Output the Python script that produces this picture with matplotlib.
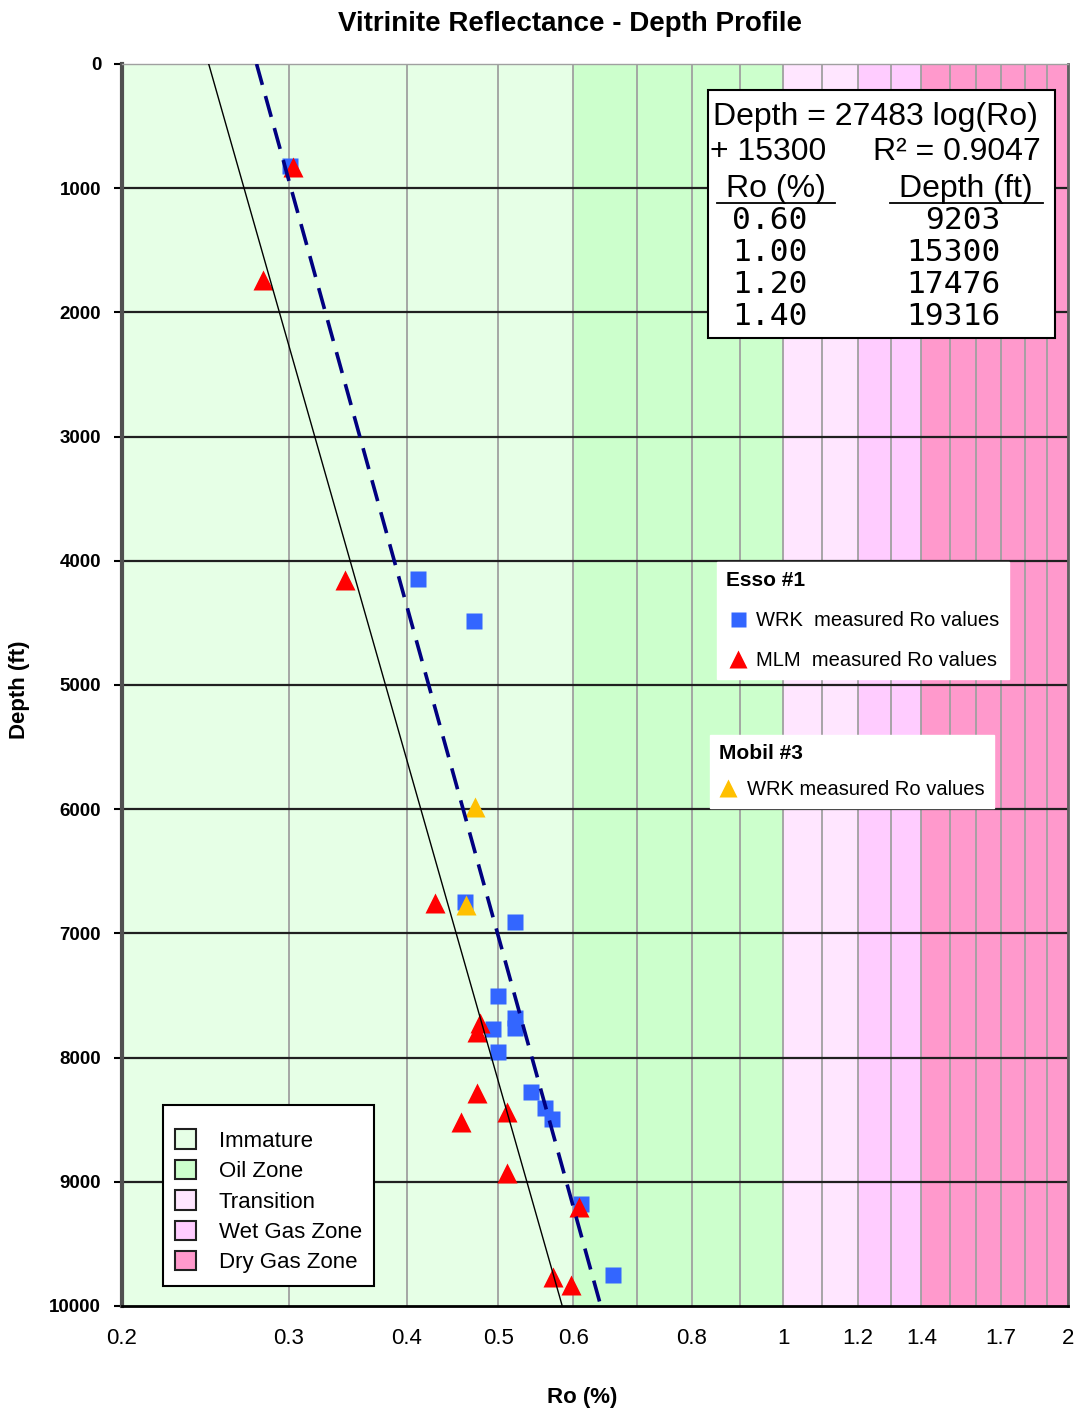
import matplotlib.pyplot as plt
from matplotlib.patches import Patch, Rectangle
from matplotlib.lines import Line2D
import numpy as np

W, H = 1076, 1412

# maturity zones (Ro %)
zone_names = ["Immature", "Oil Zone", "Transition", "Wet Gas Zone", "Dry Gas Zone"]
zone_edges = [0.2, 0.6, 1.0, 1.2, 1.4, 2.0]
zone_colors = ["#E6FFE6", "#CCFFCC", "#FFE6FF", "#FFCCFF", "#FF99CC"]

# Esso #1 - WRK measured Ro values
esso_wrk_ro = [0.301, 0.411, 0.471, 0.461, 0.521, 0.500, 0.521, 0.521, 0.493,
               0.500, 0.541, 0.560, 0.569, 0.612, 0.660]
esso_wrk_depth = [821, 4147, 4485, 6745, 6906, 7504, 7684, 7764, 7772,
                  7952, 8274, 8408, 8497, 9179, 9750]

# Esso #1 - MLM measured Ro values
esso_mlm_ro = [0.303, 0.282, 0.344, 0.428, 0.478, 0.475, 0.474, 0.456, 0.511,
               0.511, 0.608, 0.571, 0.597]
esso_mlm_depth = [828, 1739, 4155, 6758, 7719, 7791, 8288, 8516, 8436,
                  8932, 9200, 9764, 9831]

# Mobil #3 - WRK measured Ro values
mobil_wrk_ro = [0.472, 0.462]
mobil_wrk_depth = [5982, 6771]

# trend lines
fit_slope, fit_icpt, r_squared = 27483, 15300, 0.9047
line_depth = [0, 10000]
solid_ro = [0.247, 0.584]

# table in the equation box
table_ro = ["0.60", "1.00", "1.20", "1.40"]
table_depth = ["9203", "15300", "17476", "19316"]

x_ticks = [0.2, 0.3, 0.4, 0.5, 0.6, 0.8, 1, 1.2, 1.4, 1.7, 2]
x_grid = [0.2, 0.3, 0.4, 0.5, 0.6, 0.7, 0.8, 0.9, 1.0, 1.1, 1.2, 1.3, 1.4,
          1.5, 1.6, 1.7, 1.8, 1.9, 2.0]
y_ticks = [0, 1000, 2000, 3000, 4000, 5000, 6000, 7000, 8000, 9000, 10000]

plt.rcParams["font.family"] = ["Liberation Sans", "DejaVu Sans"]


def fx(x):
    return x / W


def fy(y):
    return 1 - y / H


fig = plt.figure(figsize=(W / 100, H / 100), dpi=100)
ax = fig.add_axes([fx(122), fy(1306), (1068 - 122) / W, (1306 - 64) / H])

for i, c in enumerate(zone_colors):
    ax.axvspan(zone_edges[i], zone_edges[i + 1], color=c, zorder=0, lw=0)

sq, = ax.plot(esso_wrk_ro, esso_wrk_depth, "s", color="#3366FF", ms=12,
              mec="none", zorder=3)
tri, = ax.plot(esso_mlm_ro, esso_mlm_depth, "^", color="#FF0000", ms=14,
               mec="none", zorder=3)
otri, = ax.plot(mobil_wrk_ro, mobil_wrk_depth, "^", color="#FFC000", ms=14,
                mec="none", zorder=3)

fit_ro = [10 ** ((d - fit_icpt) / fit_slope) for d in line_depth]
ax.plot(fit_ro, line_depth, color="#000080", lw=2.6, ls=(0, (6, 3.2)), zorder=4)
ax.plot(solid_ro, line_depth, color="black", lw=1.0, zorder=4)

ax.set_xscale("log")
ax.set_xlim(0.2, 2)
ax.set_ylim(10000, 0)
ax.set_xticks(x_grid, minor=True)
ax.set_xticks(x_ticks)
ax.set_xticklabels([f"{v:g}" for v in x_ticks], fontsize=16)
ax.xaxis.set_minor_formatter(plt.NullFormatter())
ax.tick_params(axis="x", which="both", length=0, pad=16)
ax.set_yticks(y_ticks)
ax.set_yticklabels([str(v) for v in y_ticks], fontsize=13.5, fontweight="bold")
ax.tick_params(axis="y", length=6, width=1.5, pad=9)

ax.set_axisbelow(True)
ax.grid(axis="x", which="both", color="#A0A0A0", lw=1.3)
ax.grid(axis="y", which="major", color="#202020", lw=1.6)
ygl = ax.get_ygridlines()
ygl[0].set_visible(False)
ygl[-1].set_visible(False)

ax.spines["left"].set_color("#505050")
ax.spines["left"].set_linewidth(3)
ax.spines["bottom"].set_color("black")
ax.spines["bottom"].set_linewidth(2)
ax.spines["right"].set_color("#606060")
ax.spines["right"].set_linewidth(2)
ax.spines["top"].set_color("#A0A0A0")
ax.spines["top"].set_linewidth(1)

fig.text(fx(570), fy(24), "Vitrinite Reflectance - Depth Profile", fontsize=20,
         fontweight="bold", ha="center", va="center")
fig.text(fx(582), fy(1398), "Ro (%)", fontsize=16, fontweight="bold",
         ha="center", va="center")
fig.text(fx(20), fy(690), "Depth (ft)", fontsize=16, fontweight="bold",
         ha="center", va="center", rotation=90)

# equation box
fig.patches.append(Rectangle((fx(708), fy(338)), (1055 - 708) / W, (338 - 90) / H,
                             transform=fig.transFigure, facecolor="white",
                             edgecolor="black", lw=1.5, zorder=5))
eq_kw = dict(fontsize=23, va="baseline", zorder=6)
fig.text(fx(713), fy(125), f"Depth = {fit_slope} log(Ro)", ha="left", **eq_kw)
fig.text(fx(710), fy(160), f"+ {fit_icpt}", ha="left", **eq_kw)
fig.text(fx(873), fy(160), f"R\u00b2 = {r_squared}", ha="left", **eq_kw)
fig.text(fx(776), fy(197), "Ro (%)", ha="center", **eq_kw)
fig.text(fx(966), fy(197), "Depth (ft)", ha="center", **eq_kw)
for x0, x1 in [(717, 835), (890, 1043)]:
    fig.lines.append(Line2D([fx(x0), fx(x1)], [fy(203), fy(203)],
                            transform=fig.transFigure, color="black", lw=1.3,
                            zorder=6))
row_base = [229, 261, 293, 325]
for r, d, yb in zip(table_ro, table_depth, row_base):
    fig.text(fx(732), fy(yb), r, ha="left", fontsize=22.5, va="baseline",
             family="DejaVu Sans Mono", zorder=6)
    fig.text(fx(1001), fy(yb), d, ha="right", fontsize=22.5, va="baseline",
             family="DejaVu Sans Mono", zorder=6)

# Esso #1 legend
leg1 = ax.legend([sq, tri], ["WRK  measured Ro values", "MLM  measured Ro values"],
                 title="Esso #1", loc="upper left",
                 bbox_to_anchor=(fx(717), fy(562)), bbox_transform=fig.transFigure,
                 borderaxespad=0, borderpad=0.45, fontsize=14.5,
                 title_fontproperties={"weight": "bold", "size": 15},
                 alignment="left", handlelength=1.2, handletextpad=0.3,
                 labelspacing=1.05, markerscale=0.9, fancybox=False,
                 framealpha=1, facecolor="white", edgecolor="white")
ax.add_artist(leg1)

# Mobil #3 legend
leg2 = ax.legend([otri], ["WRK measured Ro values"], title="Mobil #3",
                 loc="upper left", bbox_to_anchor=(fx(710), fy(735)),
                 bbox_transform=fig.transFigure, borderaxespad=0, borderpad=0.45,
                 fontsize=14.5, title_fontproperties={"weight": "bold", "size": 15},
                 alignment="left", handlelength=0.9, handletextpad=0.5,
                 labelspacing=0.85, markerscale=0.9, fancybox=False,
                 framealpha=1, facecolor="white", edgecolor="white")
ax.add_artist(leg2)

# zone legend (tiny blank title adds the top gap of the original)
zone_handles = [Patch(facecolor=c, edgecolor="#202020", lw=1.5) for c in zone_colors]
leg3 = ax.legend(zone_handles, zone_names, loc="upper left", title=" ",
                 title_fontsize=3,
                 bbox_to_anchor=(fx(163), fy(1105)), bbox_transform=fig.transFigure,
                 borderaxespad=0, borderpad=0.55, fontsize=16, handlelength=0.95,
                 handleheight=0.95, handletextpad=1.0, labelspacing=0.37,
                 fancybox=False, framealpha=1, facecolor="white",
                 edgecolor="black")
leg3.get_frame().set_linewidth(1.5)

fig.savefig("out.png", dpi=100)
